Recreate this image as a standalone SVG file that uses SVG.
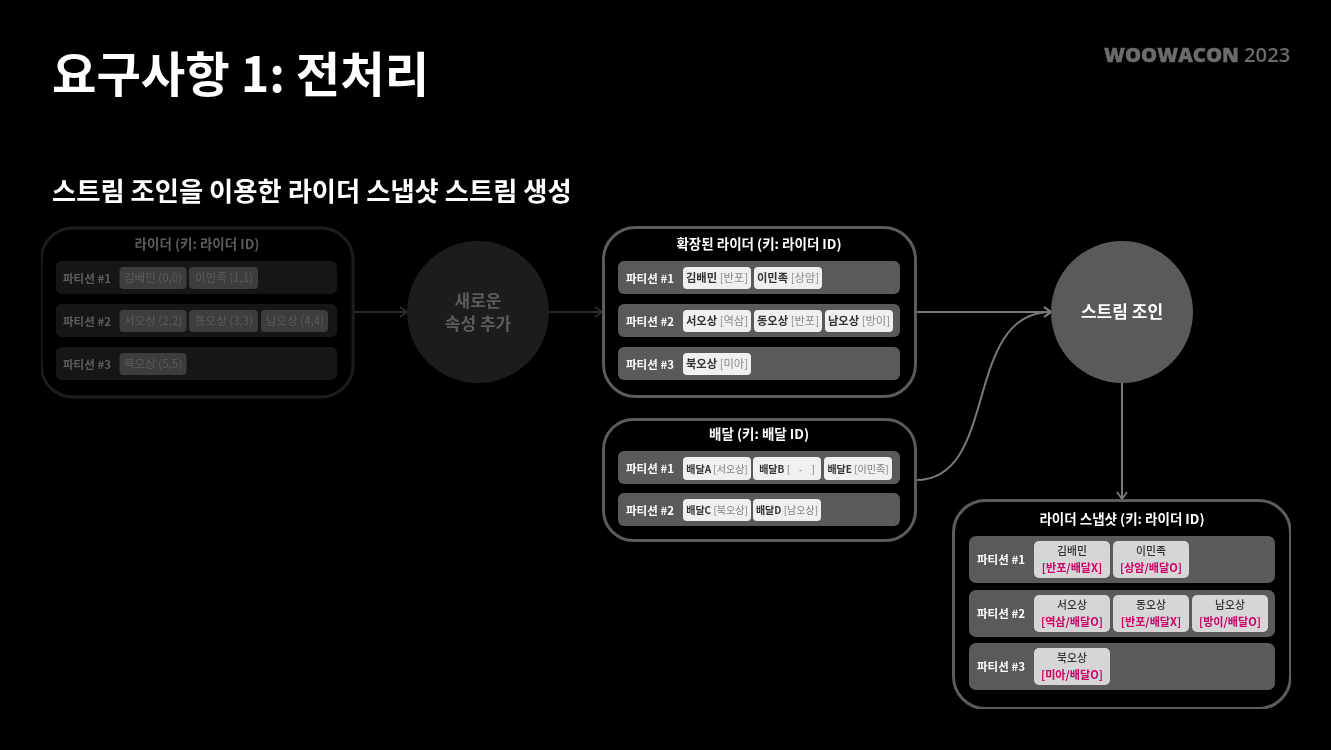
<svg xmlns="http://www.w3.org/2000/svg" width="1331" height="750" viewBox="0 0 1331 750">
<defs>
<style>
text{font-family:"Noto Sans CJK KR","Noto Sans",sans-serif;}
.box{fill:#000;stroke:#5c5c5c;stroke-width:3}
.row{fill:#5a5a5a}
.chip{fill:#f0f0f0}
.schip{fill:#d6d6d6}
.ttl{font-size:13.500px;font-weight:700;fill:#fff;text-anchor:middle}
.pl{font-size:11.500px;font-weight:700;fill:#fff;text-anchor:middle}
.c{font-size:11.300px;text-anchor:middle;font-weight:700;fill:#333}
.c tspan.g{font-weight:400;fill:#8a8a8a}
.c2{font-size:10px;text-anchor:middle;font-weight:700;fill:#333}
.c2 tspan.g{font-weight:400;fill:#808080}
.n{font-size:10.800px;text-anchor:middle;fill:#333;font-weight:500}
.p{font-size:11.100px;text-anchor:middle;fill:#cc0066;font-weight:700}
.dbox{fill:#000;stroke:#1e1e1e;stroke-width:3}
.drow{fill:#191919}
.dchip{fill:#3c3c3c}
.dt{font-size:13.500px;font-weight:700;text-anchor:middle;fill:#5c5c5c}
.dp{font-size:11.500px;font-weight:700;text-anchor:middle;fill:#5c5c5c}
.dc{font-size:11.500px;text-anchor:middle;fill:#5c5c5c}
.con{fill:none;stroke:#7a7a7a;stroke-width:2}
.dcon{fill:none;stroke:#2c2c2c;stroke-width:2}
</style>
<filter id="soft" x="0" y="0" width="100%" height="100%"><feGaussianBlur stdDeviation="0.4"/></filter>
<marker id="arr" viewBox="0 0 10 12" refX="9" refY="6" markerWidth="10" markerHeight="12" markerUnits="userSpaceOnUse" orient="auto"><path d="M2 1L9 6L2 11" fill="none" stroke="#7a7a7a" stroke-width="1.8"/></marker>
<marker id="darr" viewBox="0 0 10 12" refX="9" refY="6" markerWidth="10" markerHeight="12" markerUnits="userSpaceOnUse" orient="auto"><path d="M2 1L9 6L2 11" fill="none" stroke="#2c2c2c" stroke-width="1.8"/></marker>
</defs>
<rect width="1331" height="750" fill="#000"/>
<g filter="url(#soft)">
<g id="header">
<text x="52" y="92" font-size="48.300" font-weight="700" fill="#fff">요구사항 1: 전처리</text>
<text x="52" y="201" font-size="26.300" font-weight="700" fill="#fff">스트림 조인을 이용한 라이더 스냅샷 스트림 생성</text>
<text x="1104" y="62" font-size="20.200" font-weight="800" fill="#6c6c6c" stroke="#6c6c6c" stroke-width="0.4" style="font-family:'Open Sans','Noto Sans',sans-serif">WOOWACON <tspan font-weight="600" stroke="none">2023</tspan></text>
</g>
<g id="connectors">
<path class="dcon" d="M354 312H407" marker-end="url(#darr)"/>
<path class="dcon" d="M549 312H602" marker-end="url(#darr)"/>
<path class="con" d="M916 312H1051" marker-end="url(#arr)"/>
<path class="con" d="M916 480C1000 480 962 312 1051 312" marker-end="url(#arr)"/>
<path class="con" d="M1122 383V499" marker-end="url(#arr)"/>
</g>
<g id="riders">
<rect class="dbox" x="41" y="228" width="312" height="169" rx="32"/>
<text class="dt" x="197" y="249">라이더 (키: 라이더 ID)</text>
<rect class="drow" x="56" y="261" width="281" height="33" rx="6"/>
<rect class="drow" x="56" y="304" width="281" height="33" rx="6"/>
<rect class="drow" x="56" y="347" width="281" height="33" rx="6"/>
<text class="dp" x="87" y="282.500">파티션 #1</text>
<text class="dp" x="87" y="325.500">파티션 #2</text>
<text class="dp" x="87" y="368.500">파티션 #3</text>
<rect class="dchip" x="119.500" y="267" width="67" height="22" rx="4"/><text class="dc" x="153" y="282">김배민 (0,0)</text>
<rect class="dchip" x="189" y="267" width="69" height="22" rx="4"/><text class="dc" x="224" y="282">이민족 (1,1)</text>
<rect class="dchip" x="119.500" y="310" width="67" height="22" rx="4"/><text class="dc" x="153" y="325">서오상 (2,2)</text>
<rect class="dchip" x="189" y="310" width="69" height="22" rx="4"/><text class="dc" x="224" y="325">동오상 (3,3)</text>
<rect class="dchip" x="261" y="310" width="67" height="22" rx="4"/><text class="dc" x="295" y="325">남오상 (4,4)</text>
<rect class="dchip" x="119.500" y="353" width="67" height="22" rx="4"/><text class="dc" x="153" y="368">북오상 (5,5)</text>
</g>
<g id="add-attr">
<circle cx="478" cy="312" r="71" fill="#1c1c1c"/>
<text x="478" y="307" font-size="17" font-weight="700" fill="#5c5c5c" text-anchor="middle">새로운</text>
<text x="478" y="330" font-size="17" font-weight="700" fill="#5c5c5c" text-anchor="middle">속성 추가</text>
</g>
<g id="extended-riders">
<rect class="box" x="603.500" y="227.500" width="312" height="169" rx="32"/>
<text class="ttl" x="759" y="249">확장된 라이더 (키: 라이더 ID)</text>
<rect class="row" x="618" y="261" width="282" height="33" rx="6"/>
<rect class="row" x="618" y="304" width="282" height="33" rx="6"/>
<rect class="row" x="618" y="347" width="282" height="33" rx="6"/>
<text class="pl" x="650" y="282.500">파티션 #1</text>
<text class="pl" x="650" y="325.500">파티션 #2</text>
<text class="pl" x="650" y="368.500">파티션 #3</text>
<rect class="chip" x="683" y="267" width="68" height="22" rx="4"/><text class="c" x="717" y="282">김배민 <tspan class="g">[반포]</tspan></text>
<rect class="chip" x="754" y="267" width="68" height="22" rx="4"/><text class="c" x="788" y="282">이민족 <tspan class="g">[상암]</tspan></text>
<rect class="chip" x="683" y="310" width="68" height="22" rx="4"/><text class="c" x="717" y="325">서오상 <tspan class="g">[역삼]</tspan></text>
<rect class="chip" x="754" y="310" width="68" height="22" rx="4"/><text class="c" x="788" y="325">동오상 <tspan class="g">[반포]</tspan></text>
<rect class="chip" x="825" y="310" width="68" height="22" rx="4"/><text class="c" x="859" y="325">남오상 <tspan class="g">[방이]</tspan></text>
<rect class="chip" x="683" y="353" width="68" height="22" rx="4"/><text class="c" x="717" y="368">북오상 <tspan class="g">[미아]</tspan></text>
</g>
<g id="delivery">
<rect class="box" x="603.500" y="419.500" width="312" height="121" rx="30"/>
<text class="ttl" x="759" y="439">배달 (키: 배달 ID)</text>
<rect class="row" x="618" y="451" width="282" height="33" rx="6"/>
<rect class="row" x="618" y="493" width="282" height="33" rx="6"/>
<text class="pl" x="650" y="472.500">파티션 #1</text>
<text class="pl" x="650" y="514.500">파티션 #2</text>
<rect class="chip" x="683" y="457" width="68" height="23" rx="4"/><text class="c2" x="717" y="472.500">배달A <tspan class="g">[서오상]</tspan></text>
<rect class="chip" x="753" y="457" width="68" height="23" rx="4"/><text class="c2" x="787" y="472.500">배달B <tspan class="g">[&#160;&#160;&#160;&#160;-&#160;&#160;&#160;&#160;]</tspan></text>
<rect class="chip" x="824" y="457" width="68" height="23" rx="4"/><text class="c2" x="858" y="472.500">배달E <tspan class="g">[이민족]</tspan></text>
<rect class="chip" x="683" y="499" width="68" height="22" rx="4"/><text class="c2" x="717" y="513.500">배달C <tspan class="g">[북오상]</tspan></text>
<rect class="chip" x="753" y="499" width="68" height="22" rx="4"/><text class="c2" x="787" y="513.500">배달D <tspan class="g">[남오상]</tspan></text>
</g>
<g id="stream-join">
<circle cx="1122" cy="312" r="71" fill="#5a5a5a"/>
<text x="1122" y="318" font-size="17" font-weight="700" fill="#fff" text-anchor="middle">스트림 조인</text>
</g>
<g id="rider-snapshot">
<rect class="box" x="953.500" y="500.500" width="337" height="208" rx="32"/>
<text class="ttl" x="1122" y="524">라이더 스냅샷 (키: 라이더 ID)</text>
<rect class="row" x="969" y="536" width="306" height="47" rx="7"/>
<rect class="row" x="969" y="590" width="306" height="47" rx="7"/>
<rect class="row" x="969" y="643" width="306" height="47" rx="7"/>
<text class="pl" x="1001" y="564">파티션 #1</text>
<text class="pl" x="1001" y="618">파티션 #2</text>
<text class="pl" x="1001" y="671">파티션 #3</text>
<rect class="schip" x="1034" y="541" width="76" height="37" rx="5"/><text class="n" x="1072" y="555">김배민</text><text class="p" x="1072" y="572">[반포/배달X]</text>
<rect class="schip" x="1113" y="541" width="76" height="37" rx="5"/><text class="n" x="1151" y="555">이민족</text><text class="p" x="1151" y="572">[상암/배달O]</text>
<rect class="schip" x="1034" y="595" width="76" height="37" rx="5"/><text class="n" x="1072" y="609">서오상</text><text class="p" x="1072" y="626">[역삼/배달O]</text>
<rect class="schip" x="1113" y="595" width="76" height="37" rx="5"/><text class="n" x="1151" y="609">동오상</text><text class="p" x="1151" y="626">[반포/배달X]</text>
<rect class="schip" x="1192" y="595" width="76" height="37" rx="5"/><text class="n" x="1230" y="609">남오상</text><text class="p" x="1230" y="626">[방이/배달O]</text>
<rect class="schip" x="1034" y="648" width="76" height="37" rx="5"/><text class="n" x="1072" y="662">북오상</text><text class="p" x="1072" y="679">[미아/배달O]</text>
</g>
</g>
</svg>
